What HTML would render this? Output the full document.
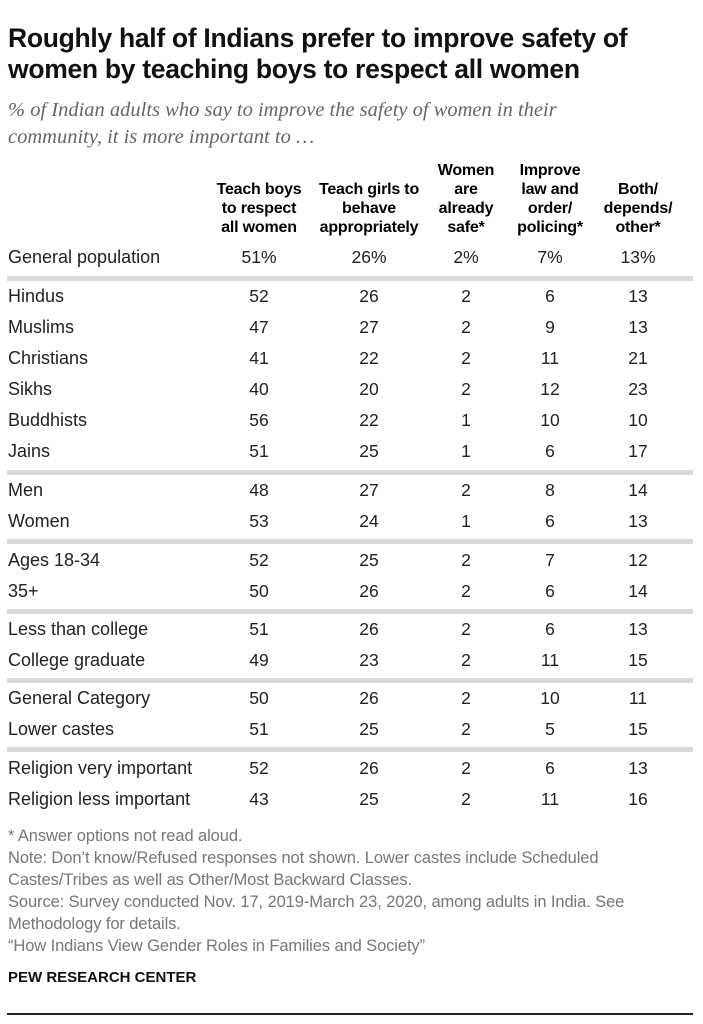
<!DOCTYPE html>
<html><head><meta charset="utf-8"><style>
body{margin:0;background:#fff;width:703px;height:1024px;position:relative;overflow:hidden;font-family:"Liberation Sans",sans-serif;color:#000}
.a{position:absolute;white-space:nowrap}
.t{left:8px;top:23px;font-size:26.5px;font-weight:bold;line-height:31px;letter-spacing:-0.3px;color:#111}
.s{left:8px;top:97px;font-family:"Liberation Serif",serif;font-style:italic;font-size:20.5px;line-height:27px;color:#666}
.h{font-weight:bold;font-size:16px;line-height:19px;text-align:center;transform:translateX(-50%);top:161px;letter-spacing:-0.2px}
.r{font-size:18px;left:8px;color:#222}
.v{font-size:17.5px;transform:translateX(-50%);color:#222}
.sep{position:absolute;left:7px;width:686px;height:5px;background:#d9d9d9}
.n{left:8px;font-size:16.5px;line-height:22px;color:#777;letter-spacing:-0.1px}
</style></head><body>
<div class="a t">Roughly half of Indians prefer to improve safety of<br>women by teaching boys to respect all women</div>
<div class="a s">% of Indian adults who say to improve the safety of women in their<br>community, it is more important to …</div>
<div class="a h" style="left:259px;top:180px">Teach boys<br>to respect<br>all women</div>
<div class="a h" style="left:369px;top:180px">Teach girls to<br>behave<br>appropriately</div>
<div class="a h" style="left:466px">Women<br>are<br>already<br>safe*</div>
<div class="a h" style="left:550px">Improve<br>law and<br>order/<br>policing*</div>
<div class="a h" style="left:638px;top:180px">Both/<br>depends/<br>other*</div>
<div id="rows"></div>
<div class="sep" style="top:276px"></div>
<div class="sep" style="top:470px"></div>
<div class="sep" style="top:539px"></div>
<div class="sep" style="top:609px"></div>
<div class="sep" style="top:678px"></div>
<div class="sep" style="top:747px"></div>
<div class="a n" style="top:825px">* Answer options not read aloud.<br>Note: Don’t know/Refused responses not shown. Lower castes include Scheduled<br>Castes/Tribes as well as Other/Most Backward Classes.<br>Source: Survey conducted Nov. 17, 2019-March 23, 2020, among adults in India. See<br>Methodology for details.<br>“How Indians View Gender Roles in Families and Society”</div>
<div class="a" style="left:8px;top:969px;font-size:15px;font-weight:bold;color:#111">PEW RESEARCH CENTER</div>
<div style="position:absolute;left:7px;top:1013px;width:686px;height:2px;background:#222"></div>
<script>
var d=[[247,"General population","51%","26%","2%","7%","13%"],[286,"Hindus",52,26,2,6,13],[317,"Muslims",47,27,2,9,13],[348,"Christians",41,22,2,11,21],[379,"Sikhs",40,20,2,12,23],[410,"Buddhists",56,22,1,10,10],[441,"Jains",51,25,1,6,17],[480,"Men",48,27,2,8,14],[511,"Women",53,24,1,6,13],[550,"Ages 18-34",52,25,2,7,12],[581,"35+",50,26,2,6,14],[619,"Less than college",51,26,2,6,13],[650,"College graduate",49,23,2,11,15],[688,"General Category",50,26,2,10,11],[719,"Lower castes",51,25,2,5,15],[758,"Religion very important",52,26,2,6,13],[789,"Religion less important",43,25,2,11,16]];
var xs=[259,369,466,550,638],h="";
d.forEach(function(r){h+='<div class="a r" style="top:'+r[0]+'px">'+r[1]+'</div>';for(var i=0;i<5;i++)h+='<div class="a v" style="top:'+r[0]+'px;left:'+xs[i]+'px">'+r[i+2]+'</div>';});
document.getElementById("rows").innerHTML=h;
</script>
</body></html>
